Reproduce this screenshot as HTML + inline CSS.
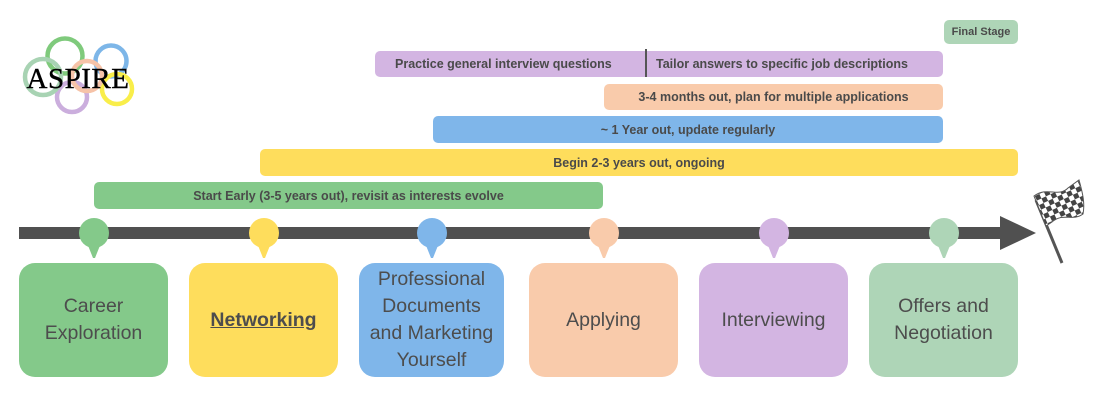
<!DOCTYPE html>
<html><head><meta charset="utf-8"><style>
html,body{margin:0;padding:0;background:#fff;}
body{width:1100px;height:400px;position:relative;overflow:hidden;font-family:"Liberation Sans",sans-serif;}
.bar{position:absolute;border-radius:5px;color:#4a4a4a;font-weight:bold;font-size:12.5px;display:flex;align-items:center;justify-content:center;}
.box{position:absolute;top:263px;height:114px;border-radius:16px;color:#4d4d4d;font-size:19.5px;line-height:27px;display:flex;align-items:center;justify-content:center;text-align:center;}
</style></head><body>
<svg width="1100" height="400" style="position:absolute;left:0;top:0">
 <g fill="none" stroke-width="4.5">
  <circle cx="65" cy="56" r="17.5" stroke="#7fca7c"/>
  <circle cx="111" cy="61" r="15.5" stroke="#7db6e8"/>
  <circle cx="72" cy="97" r="15" stroke="#cbaedd"/>
  <circle cx="117" cy="89" r="15" stroke="#f9ee4a"/>
  <circle cx="43" cy="77" r="18" stroke="#a8d3b3"/>
  <circle cx="87" cy="76" r="15" stroke="#f6c3a8"/>
 </g>
 <text x="78" y="88" text-anchor="middle" font-family="Liberation Serif,serif" font-size="29" letter-spacing="0.5" fill="#000" stroke="#000" stroke-width="0.4">ASPIRE</text>
 <rect x="19" y="227" width="985" height="12" fill="#505050"/>
 <polygon points="1000,216 1036,233 1000,250" fill="#505050"/>
 <g>
  <g fill="#84c98a"><circle cx="94" cy="233" r="15"/><polygon points="87,243 101,243 95,258 93,258"/></g>
  <g fill="#fedd5c"><circle cx="264" cy="233" r="15"/><polygon points="257,243 271,243 265,258 263,258"/></g>
  <g fill="#7fb6ea"><circle cx="432" cy="233" r="15"/><polygon points="425,243 439,243 433,258 431,258"/></g>
  <g fill="#f9cbab"><circle cx="604" cy="233" r="15"/><polygon points="597,243 611,243 605,258 603,258"/></g>
  <g fill="#d3b5e2"><circle cx="774" cy="233" r="15"/><polygon points="767,243 781,243 775,258 773,258"/></g>
  <g fill="#aed5b7"><circle cx="944" cy="233" r="15"/><polygon points="937,243 951,243 945,258 943,258"/></g>
 </g>
 <line x1="1036" y1="200" x2="1062" y2="263" stroke="#555" stroke-width="3"/>
 <defs><pattern id="chk" width="10" height="10" patternUnits="userSpaceOnUse" patternTransform="rotate(-25)">
  <rect width="10" height="10" fill="#fff"/><rect width="5" height="5" fill="#444"/><rect x="5" y="5" width="5" height="5" fill="#444"/></pattern></defs>
 <path d="M1034,196 C1048,186 1058,198 1068,188 L1079,180 C1083,194 1085,204 1083,214 C1072,222 1064,212 1052,222 L1046,226 Z" fill="url(#chk)" stroke="#555" stroke-width="1"/>
</svg>

<div class="bar" style="left:944px;top:20px;width:74px;height:24px;background:#aed5b7;font-size:11px;">Final Stage</div>
<div class="bar" style="left:375px;top:51px;width:568px;height:26px;background:#d3b5e2;justify-content:flex-start;">
 <span style="position:absolute;left:20px;">Practice general interview questions</span>
 <span style="position:absolute;left:270px;top:-2px;width:2px;height:28px;background:#555;"></span>
 <span style="position:absolute;left:281px;">Tailor answers to specific job descriptions</span>
</div>
<div class="bar" style="left:604px;top:84px;width:339px;height:26px;background:#f9cbab;">3-4 months out, plan for multiple applications</div>
<div class="bar" style="left:433px;top:116px;width:510px;height:27px;background:#7fb6ea;">~ 1 Year out, update regularly</div>
<div class="bar" style="left:260px;top:149px;width:758px;height:27px;background:#fedd5c;">Begin 2-3 years out, ongoing</div>
<div class="bar" style="left:94px;top:182px;width:509px;height:27px;background:#84c98a;">Start Early (3-5 years out), revisit as interests evolve</div>

<div class="box" style="left:19px;width:149px;background:#84c98a;">Career<br>Exploration</div>
<div class="box" style="left:189px;width:149px;background:#fedd5c;font-weight:bold;"><u>Networking</u></div>
<div class="box" style="left:359px;width:145px;background:#7fb6ea;">Professional<br>Documents<br>and Marketing<br>Yourself</div>
<div class="box" style="left:529px;width:149px;background:#f9cbab;">Applying</div>
<div class="box" style="left:699px;width:149px;background:#d3b5e2;">Interviewing</div>
<div class="box" style="left:869px;width:149px;background:#aed5b7;">Offers and<br>Negotiation</div>
</body></html>
